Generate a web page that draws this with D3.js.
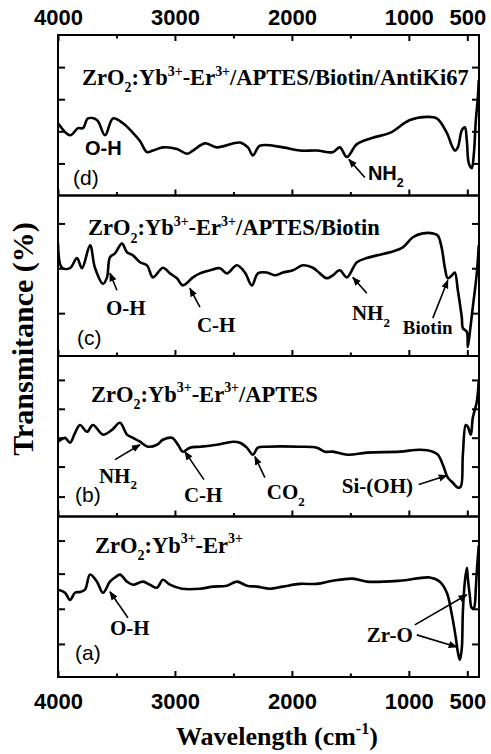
<!DOCTYPE html>
<html>
<head>
<meta charset="utf-8">
<script src="https://cdn.jsdelivr.net/npm/d3@7"></script>
<style>
  html, body { margin: 0; padding: 0; background: #fff; }
  svg { display: block; }
</style>
</head>
<body>
<div id="chart"></div>
<script>
'use strict'

// wavenumber ticks
const xTicks = [4000, 3000, 2000, 1000, 500]
const xMinorTicks = [3500, 2500, 1500]

// (d) ZrO2:Yb-Er/APTES/Biotin/AntiKi67
const wnD = [4000, 3897, 3829, 3786, 3744, 3667, 3598, 3530, 3444, 3359, 3299, 3239, 3188, 3103, 2983, 2897, 2846, 2744, 2641, 2444, 2376, 2333, 2274, 2077, 1932, 1786, 1650, 1590, 1530, 1444, 1308, 1162, 991, 846, 761, 675, 632, 607, 581, 547, 521, 504, 487, 462, 444, 427, 410, 402]
const tD = [45, 37.5, 42, 42, 48, 47, 37.5, 48, 45, 39, 34, 27, 28, 30, 29, 26, 28, 32.5, 30, 33, 30, 25, 31, 30, 28, 28, 27, 30, 24, 32, 36, 39, 47, 49, 48, 39, 31, 28, 30, 40.6, 42.5, 34, 20, 17, 26, 47, 61, 72]

// (c) ZrO2:Yb-Er/APTES/Biotin
const wnC = [4000, 3966, 3897, 3838, 3795, 3726, 3684, 3615, 3581, 3556, 3513, 3453, 3410, 3359, 3299, 3239, 3188, 3103, 3043, 2983, 2932, 2846, 2786, 2701, 2615, 2556, 2470, 2402, 2342, 2291, 2214, 2145, 2077, 1991, 1906, 1821, 1761, 1701, 1650, 1590, 1530, 1444, 1359, 1274, 1162, 1051, 966, 880, 795, 752, 718, 692, 667, 632, 607, 581, 547, 538, 504, 496, 479, 453, 419, 402]
const tC = [70, 55, 54.7, 61, 54.7, 69, 55, 45, 49, 61.5, 64, 70, 64.6, 62.7, 58.4, 56.5, 49, 55, 51.5, 48.4, 44, 49, 51.5, 53.4, 54.7, 51.5, 56.5, 52, 44, 51.5, 52, 50.3, 52, 53.4, 56.5, 55, 51.5, 48.4, 50.3, 53.4, 49, 58.4, 61, 62.7, 64.6, 67.7, 74, 76.4, 76.4, 75, 67, 55, 48.4, 50.3, 52, 41, 24, 17.4, 15, 5.6, 14.3, 30.4, 51.5, 69]

// (b) ZrO2:Yb-Er/APTES
const wnB = [4000, 3940, 3897, 3855, 3812, 3752, 3701, 3615, 3538, 3470, 3410, 3359, 3299, 3231, 3154, 3103, 3026, 2974, 2932, 2872, 2786, 2641, 2504, 2444, 2385, 2333, 2291, 2214, 1932, 1786, 1718, 1650, 1521, 1359, 1077, 906, 795, 752, 709, 667, 624, 581, 556, 538, 513, 496, 470, 453, 419, 402]
const tB = [46.6, 49, 46, 52, 57, 52.8, 57, 51, 54, 58.4, 51, 49, 46.6, 43.5, 44.7, 47.8, 49, 44.7, 40.4, 42.9, 43.5, 44.7, 46.6, 46, 42.9, 38.5, 42.9, 43.5, 43.5, 42.9, 40.4, 40.4, 38.5, 39.8, 40.4, 41.6, 40.4, 38.5, 32.3, 24.2, 21, 18, 18.6, 38.5, 57, 56, 51, 61.5, 71.4, 85]

// (a) ZrO2:Yb-Er
const wnA = [4000, 3940, 3897, 3855, 3812, 3769, 3726, 3667, 3615, 3556, 3513, 3470, 3410, 3359, 3274, 3214, 3154, 3103, 3043, 2940, 2786, 2675, 2556, 2470, 2385, 2299, 2188, 2077, 1932, 1786, 1650, 1479, 1359, 1077, 821, 735, 675, 632, 598, 581, 564, 547, 538, 521, 504, 496, 479, 462, 444, 427, 419, 402]
const tA = [54.4, 52.5, 48, 52.5, 53, 54.4, 63.8, 59.4, 52.5, 59.4, 62, 63.8, 59.4, 57.5, 59.4, 57.5, 55.6, 60.6, 57.5, 55, 55, 56.3, 56.9, 59.4, 56.9, 56.3, 55, 56.3, 58, 58, 60, 61.3, 59.4, 60, 62, 59.4, 52.5, 38.8, 24.4, 15.6, 10.6, 18, 40.6, 59.4, 68, 62, 51, 43, 43, 55.6, 65.6, 82]

// left/right tick values of every panel
const yTicksD = [20, 40, 60, 80]
const yTicksC = [26.7, 54.7, 82.6]
const yTicksB = [12.4, 31.1, 49.1, 67.1, 85.1]
const yTicksA = [20.6, 42.5, 64.4, 85]

const titles = [
  'ZrO_2:Yb^{3+}-Er^{3+}/APTES/Biotin/AntiKi67',
  'ZrO_2:Yb^{3+}-Er^{3+}/APTES/Biotin',
  'ZrO_2:Yb^{3+}-Er^{3+}/APTES',
  'ZrO_2:Yb^{3+}-Er^{3+}'
]
const letters = ['(d)', '(c)', '(b)', '(a)']

const SERIF = '"Liberation Serif", "Times New Roman", serif'
const SANS = '"Liberation Sans", Arial, sans-serif'

const width = 491, height = 754
const plotL = 58, plotR = 479, plotT = 35, plotB = 677
const panelH = (plotB - plotT) / 4

const panels = [
  { wn: wnD, t: tD, ticks: yTicksD, title: [3795, 68.75], letter: [3872, 6.25],
    labels: [
      { text: 'O-H', wn: 3769, v: 25, font: SANS, size: 20 },
      { text: 'NH_2', wn: 1350, v: 9.4, font: SANS, size: 20 }
    ],
    arrows: [[1376, 11.25, 1513, 22.5]] },
  { wn: wnC, t: tC, ticks: yTicksC, title: [3744, 75.2], letter: [3838, 6.8],
    labels: [
      { text: 'O-H', wn: 3590, v: 25.5, font: SERIF, size: 21 },
      { text: 'C-H', wn: 2812, v: 14.9, font: SERIF, size: 21 },
      { text: 'NH_2', wn: 1487, v: 22.4, font: SERIF, size: 21 },
      { text: 'Biotin', wn: 1051, v: 13.7, font: SERIF, size: 19 }
    ],
    arrows: [[3496, 41, 3556, 51.6], [2786, 30.4, 2872, 42.2], [1359, 39.1, 1479, 49], [795, 23.6, 667, 47.2]] },
  { wn: wnB, t: tB, ticks: yTicksB, title: [3718, 71.4], letter: [3855, 9.3],
    labels: [
      { text: 'NH_2', wn: 3650, v: 21.1, font: SERIF, size: 21 },
      { text: 'C-H', wn: 2923, v: 9.3, font: SERIF, size: 21 },
      { text: 'CO_2', wn: 2214, v: 10.6, font: SERIF, size: 21 },
      { text: 'Si-(OH)', wn: 1573, v: 14.9, font: SERIF, size: 21 }
    ],
    arrows: [[3513, 35.4, 3299, 44.7], [2752, 23, 2915, 40.4], [2231, 24.2, 2316, 37.3], [915, 19.9, 675, 25.5]] },
  { wn: wnA, t: tA, ticks: yTicksA, title: [3684, 77.5], letter: [3855, 10.6],
    labels: [
      { text: 'O-H', wn: 3556, v: 26.25, font: SERIF, size: 21 },
      { text: 'Zr-O', wn: 1359, v: 21.9, font: SERIF, size: 21 }
    ],
    arrows: [[3402, 36.9, 3556, 53.1], [949, 32.5, 504, 51.25], [932, 26.25, 590, 18.75]] }
]

const svg = d3.select('#chart').append('svg')
  .attr('width', width)
  .attr('height', height)

const defs = svg.append('defs')
defs.append('marker')
  .attr('id', 'head')
  .attr('viewBox', '0 0 10 10')
  .attr('refX', 9).attr('refY', 5)
  .attr('markerWidth', 9).attr('markerHeight', 9)
  .attr('markerUnits', 'userSpaceOnUse')
  .attr('orient', 'auto')
  .append('path')
  .attr('d', 'M0,1 L10,5 L0,9 Z')
  .attr('fill', '#000')

const x = d3.scaleLinear().domain([4000, 400]).range([plotL, plotR])

// split "ZrO_2:Yb^{3+}" into normal / sub / sup pieces
const parseRich = (s) => {
  const parts = []
  const re = /_\{([^}]*)\}|\^\{([^}]*)\}|_(.)|\^(.)|([^_^]+)/g
  let m
  while ((m = re.exec(s)) !== null) {
    if (m[1] !== undefined || m[3] !== undefined) parts.push({ t: m[1] || m[3], mode: 'sub' })
    else if (m[2] !== undefined || m[4] !== undefined) parts.push({ t: m[2] || m[4], mode: 'sup' })
    else parts.push({ t: m[5], mode: 'n' })
  }
  return parts
}

const richText = (g, s, size) => {
  let shift = 0
  parseRich(s).forEach((p) => {
    const target = p.mode === 'sub' ? size * 0.32 : p.mode === 'sup' ? -size * 0.42 : 0
    g.append('tspan')
      .attr('dy', target - shift)
      .attr('font-size', p.mode === 'n' ? size : size * 0.62)
      .text(p.t)
    shift = target
  })
}

panels.forEach((p, i) => {
  const y0 = plotT + i * panelH
  const y = d3.scaleLinear().domain([0, 100]).range([y0 + panelH, y0])
  const g = svg.append('g')

  defs.append('clipPath').attr('id', 'clip' + i)
    .append('rect').attr('x', plotL).attr('y', y0).attr('width', plotR - plotL).attr('height', panelH)

  const pts = p.wn.map((w, k) => [w, p.t[k]])
  g.append('path')
    .datum(pts)
    .attr('clip-path', 'url(#clip' + i + ')')
    .attr('fill', 'none')
    .attr('stroke', '#000')
    .attr('stroke-width', 2.6)
    .attr('stroke-linejoin', 'round')
    .attr('d', d3.line()
      .curve(d3.curveCatmullRom.alpha(0.5))
      .x(function(d) { return x(d[0]) })
      .y(function(d) { return y(d[1]) }))

  // ticks on the bottom edge of each panel, pointing up
  const tickAxis = (axis, yPos) => {
    const a = g.append('g').attr('transform', 'translate(0,' + yPos + ')').call(axis)
    a.select('.domain').remove()
    a.selectAll('line').attr('stroke-width', 2)
    a.selectAll('text').remove()
  }
  tickAxis(d3.axisBottom(x).tickValues(xTicks).tickSizeInner(-6).tickSizeOuter(0), y0 + panelH)
  tickAxis(d3.axisBottom(x).tickValues(xMinorTicks).tickSizeInner(-3.5).tickSizeOuter(0), y0 + panelH)
  if (i === 0) {
    tickAxis(d3.axisTop(x).tickValues(xTicks).tickSizeInner(-6).tickSizeOuter(0), y0)
    tickAxis(d3.axisTop(x).tickValues(xMinorTicks).tickSizeInner(-3.5).tickSizeOuter(0), y0)
  }

  // y ticks both sides
  const yl = g.append('g').attr('transform', 'translate(' + plotL + ',0)')
    .call(d3.axisLeft(y).tickValues(p.ticks).tickSizeInner(-7).tickSizeOuter(0))
  const yr = g.append('g').attr('transform', 'translate(' + plotR + ',0)')
    .call(d3.axisRight(y).tickValues(p.ticks).tickSizeInner(-7).tickSizeOuter(0))
  ;[yl, yr].forEach((a) => {
    a.select('.domain').remove()
    a.selectAll('line').attr('stroke-width', 2)
    a.selectAll('text').remove()
  })

  g.append('rect')
    .attr('x', plotL).attr('y', y0)
    .attr('width', plotR - plotL).attr('height', panelH)
    .attr('fill', 'none').attr('stroke', '#000').attr('stroke-width', 2)

  // title
  const tt = g.append('text')
    .attr('x', x(p.title[0])).attr('y', y(p.title[1]))
    .attr('font-family', SERIF).attr('font-weight', 'bold')
  richText(tt, titles[i], 22.5)

  g.append('text')
    .attr('x', x(p.letter[0])).attr('y', y(p.letter[1]))
    .attr('font-family', SANS).attr('font-size', 21)
    .text(letters[i])

  p.labels.forEach((l) => {
    const t = g.append('text')
      .attr('x', x(l.wn)).attr('y', y(l.v))
      .attr('font-family', l.font).attr('font-weight', 'bold')
    richText(t, l.text, l.size)
  })

  p.arrows.forEach((a) => {
    g.append('line')
      .attr('x1', x(a[0])).attr('y1', y(a[1]))
      .attr('x2', x(a[2])).attr('y2', y(a[3]))
      .attr('stroke', '#000').attr('stroke-width', 1.6)
      .attr('marker-end', 'url(#head)')
  })
})

// tick labels, top and bottom
const labelAxis = (axis, yPos) => {
  const a = svg.append('g').attr('transform', 'translate(0,' + yPos + ')').call(axis)
  a.select('.domain').remove()
  a.selectAll('line').remove()
  a.selectAll('text')
    .attr('font-family', SANS).attr('font-weight', 'bold').attr('font-size', 22).attr('fill', '#000')
}
labelAxis(d3.axisTop(x).tickValues(xTicks).tickFormat(d3.format('d')).tickSize(0).tickPadding(10), plotT)
labelAxis(d3.axisBottom(x).tickValues(xTicks).tickFormat(d3.format('d')).tickSize(0).tickPadding(16), plotB)

const xt = svg.append('text')
  .attr('x', 277).attr('y', 745)
  .attr('text-anchor', 'middle')
  .attr('font-family', SERIF).attr('font-weight', 'bold')
richText(xt, 'Wavelength (cm^{-1})', 26)

svg.append('text')
  .attr('transform', 'translate(33,339) rotate(-90)')
  .attr('text-anchor', 'middle')
  .attr('font-family', SERIF).attr('font-weight', 'bold').attr('font-size', 30)
  .text('Transmitance (%)')
</script>
</body>
</html>
